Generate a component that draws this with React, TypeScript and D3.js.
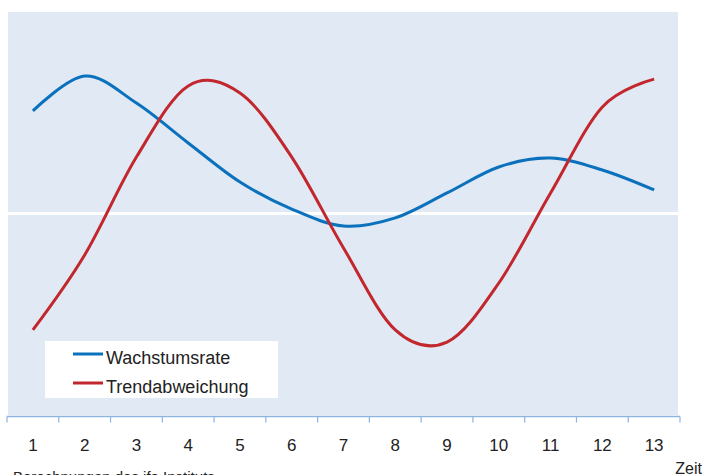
import React, { useEffect, useRef } from "react";
import * as d3 from "d3";

// Zeitpunkte auf der x-Achse
const periods = [1, 2, 3, 4, 5, 6, 7, 8, 9, 10, 11, 12, 13];
// Wachstumsrate (blaue Linie), geschätzte Werte
const wachstumsrate = [50.9, 68.2, 54.8, 35.0, 15.6, 2.2, -6.2, -2.2, 10.2, 23.1, 27.5, 21.6, 11.7];
// Trendabweichung (rote Linie), geschätzte Werte
const trendabweichung = [-57.8, -20.6, 28.0, 63.3, 59.8, 28.0, -17.1, -57.8, -63.8, -34.5, 10.2, 52.9, 66.7];

const seriesNames = ["Wachstumsrate", "Trendabweichung"];
const seriesColors = ["#0b71bd", "#c1272d"];

const W = 703;
const H = 475;
const FONT = "'Liberation Sans', Arial, sans-serif";

const App = () => {
  const svgRef = useRef<SVGSVGElement>(null);

  useEffect(() => {
    if (!svgRef.current) return;
    const svg = d3.select(svgRef.current);
    svg.selectAll("*").remove();

    const left = 7;
    const right = 680;
    const top = 12;
    const bottom = 415;

    const x = d3
      .scaleBand<number>()
      .domain(periods)
      .range([left, right]);
    const cx = (d: number) => (x(d) as number) + x.bandwidth() / 2;

    const y = d3.scaleLinear().domain([-100, 100]).range([bottom, top]);

    // Hintergrundfläche
    svg
      .append("rect")
      .attr("x", left + 1)
      .attr("y", top)
      .attr("width", right - left - 3)
      .attr("height", bottom - top)
      .attr("fill", "#e1e9f4");

    // Nulllinie
    svg
      .append("line")
      .attr("x1", left + 1)
      .attr("x2", right - 2)
      .attr("y1", y(0))
      .attr("y2", y(0))
      .attr("stroke", "#fff")
      .attr("stroke-width", 3);

    // x-Achse
    const axis = svg.append("g").attr("transform", `translate(0,${bottom + 1.5})`);
    axis
      .append("line")
      .attr("x1", left)
      .attr("x2", right)
      .attr("stroke", "#8db4e2")
      .attr("stroke-width", 1.5);
    const bounds = periods.map((p) => x(p) as number).concat([right]);
    axis
      .selectAll("line.tick")
      .data(bounds)
      .join("line")
      .attr("class", "tick")
      .attr("x1", (d) => d)
      .attr("x2", (d) => d)
      .attr("y1", 0)
      .attr("y2", 6)
      .attr("stroke", "#8db4e2")
      .attr("stroke-width", 1.2);
    svg
      .append("g")
      .selectAll("text")
      .data(periods)
      .join("text")
      .attr("x", (d) => cx(d))
      .attr("y", 451)
      .attr("text-anchor", "middle")
      .attr("font-family", FONT)
      .attr("font-size", 17)
      .attr("fill", "#222")
      .text((d) => d);

    // Linien (geglättet)
    const line = d3
      .line<number>()
      .x((_, i) => cx(periods[i]))
      .y((d) => y(d))
      .curve(d3.curveCatmullRom.alpha(0));

    [wachstumsrate, trendabweichung].forEach((s, i) => {
      svg
        .append("path")
        .attr("d", line(s))
        .attr("fill", "none")
        .attr("stroke", seriesColors[i])
        .attr("stroke-width", 3);
    });

    // Legende
    const lg = svg.append("g");
    lg.append("rect")
      .attr("x", 45)
      .attr("y", 341)
      .attr("width", 233)
      .attr("height", 57)
      .attr("fill", "#fff");
    seriesNames.forEach((n, i) => {
      const ly = 354 + i * 29;
      lg.append("line")
        .attr("x1", 73)
        .attr("x2", 103)
        .attr("y1", ly)
        .attr("y2", ly)
        .attr("stroke", seriesColors[i])
        .attr("stroke-width", 3);
      lg.append("text")
        .attr("x", 106)
        .attr("y", ly + 10)
        .attr("font-family", FONT)
        .attr("font-size", 18)
        .attr("fill", "#222")
        .text(n);
    });

    svg
      .append("text")
      .attr("x", 702)
      .attr("y", 474)
      .attr("text-anchor", "end")
      .attr("font-family", FONT)
      .attr("font-size", 16)
      .attr("fill", "#222")
      .text("Zeit");

    svg
      .append("text")
      .attr("x", 13)
      .attr("y", 482)
      .attr("font-family", FONT)
      .attr("font-size", 15)
      .attr("fill", "#222")
      .text("Berechnungen des ifo Instituts");
  }, []);

  return (
    <svg
      ref={svgRef}
      width={W}
      height={H}
      style={{ position: "absolute", left: 0, top: 0, background: "#fff" }}
    />
  );
};

export default App;
